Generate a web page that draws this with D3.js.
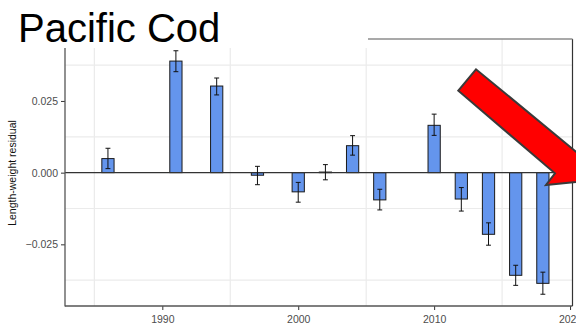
<!DOCTYPE html>
<html>
<head>
<meta charset="utf-8">
<script src="https://cdn.jsdelivr.net/npm/d3@7/dist/d3.min.js"></script>
<style>
  html, body { margin: 0; padding: 0; background: #fff; }
  svg { display: block; }
</style>
</head>
<body>
<svg id="chart" width="576" height="325"></svg>
<script>
const years  = [1986, 1991, 1994, 1997, 2000, 2002, 2004, 2006, 2010, 2012, 2014, 2016, 2018];
const values = [0.0049, 0.0389, 0.0302, -0.0009, -0.0067, 0.0002, 0.0094, -0.0095, 0.0165, -0.0092, -0.0215, -0.0358, -0.0386];
const lower  = [0.0014, 0.0352, 0.0271, -0.0042, -0.0103, -0.0025, 0.0061, -0.0130, 0.0130, -0.0134, -0.0253, -0.0393, -0.0424];
const upper  = [0.0085, 0.0425, 0.0330, 0.0022, -0.0034, 0.0028, 0.0129, -0.0058, 0.0204, -0.0052, -0.0175, -0.0323, -0.0347];
const xTicks = [1990, 2000, 2010, 2020];
const xMinor = [1985, 1995, 2005, 2015];
const yTicks = [-0.025, 0, 0.025];
const yMinor = [-0.0375, -0.0125, 0.0125, 0.0375];
const title = "Pacific Cod";
const yLabel = "Length-weight residual";

const svg = d3.select("#chart");
const L = 65, R = 572.5, T = 39, B = 306;
const x = d3.scaleLinear().domain([1982.84, 2020.18]).range([L, R]);
const y = d3.scaleLinear().domain([-0.0465, 0.0466]).range([B, T]);
const data = years.map((yr, i) => ({yr, v: values[i], lo: lower[i], hi: upper[i]}));

// grid (minor only)
const g = svg.append("g");
g.selectAll(".vg").data(xMinor).join("line")
  .attr("x1", d => x(d)).attr("x2", d => x(d)).attr("y1", T).attr("y2", B)
  .attr("stroke", "#ebebeb").attr("stroke-width", 1.2);
g.selectAll(".hg").data(yMinor).join("line")
  .attr("x1", L).attr("x2", R).attr("y1", d => y(d)).attr("y2", d => y(d))
  .attr("stroke", "#ebebeb").attr("stroke-width", 1.2);

// bars
const bw = 0.9;
svg.append("g").selectAll("rect").data(data).join("rect")
  .attr("x", d => x(d.yr - bw / 2))
  .attr("width", x(bw) - x(0))
  .attr("y", d => y(Math.max(0, d.v)))
  .attr("height", d => Math.abs(y(d.v) - y(0)))
  .attr("fill", "#6495ED").attr("stroke", "#1a1a1a").attr("stroke-width", 1);

// zero line
svg.append("line").attr("x1", L).attr("x2", R).attr("y1", y(0)).attr("y2", y(0))
  .attr("stroke", "#333").attr("stroke-width", 1.1);

// error bars
const cap = 0.18;
const eb = svg.append("g").attr("stroke", "#111").attr("stroke-width", 1);
eb.selectAll(".v").data(data).join("line")
  .attr("x1", d => x(d.yr)).attr("x2", d => x(d.yr)).attr("y1", d => y(d.lo)).attr("y2", d => y(d.hi));
eb.selectAll(".c1").data(data).join("line")
  .attr("x1", d => x(d.yr - cap)).attr("x2", d => x(d.yr + cap)).attr("y1", d => y(d.lo)).attr("y2", d => y(d.lo));
eb.selectAll(".c2").data(data).join("line")
  .attr("x1", d => x(d.yr - cap)).attr("x2", d => x(d.yr + cap)).attr("y1", d => y(d.hi)).attr("y2", d => y(d.hi));

// axes
const xAxis = svg.append("g").attr("transform", `translate(0,${B})`)
  .call(d3.axisBottom(x).tickValues(xTicks).tickFormat(d3.format("d")).tickSize(4).tickPadding(3));
const yAxis = svg.append("g").attr("transform", `translate(${L},0)`)
  .call(d3.axisLeft(y).tickValues(yTicks).tickFormat(d3.format(".3f")).tickSize(4).tickPadding(3));
[xAxis, yAxis].forEach(a => {
  a.select(".domain").remove();
  a.selectAll(".tick line").attr("stroke", "#333");
  a.selectAll(".tick text").attr("fill", "#4d4d4d")
    .style("font-family", "Liberation Sans, Arial, sans-serif").style("font-size", "10.5px");
});
xAxis.selectAll(".tick text").attr("dy", "0.95em");

// panel border lines
svg.append("line").attr("x1", L).attr("x2", L).attr("y1", T).attr("y2", B + 0.5).attr("stroke", "#555").attr("stroke-width", 1.3);
svg.append("line").attr("x1", L).attr("x2", R).attr("y1", B).attr("y2", B).attr("stroke", "#555").attr("stroke-width", 1.3);
svg.append("line").attr("x1", R).attr("x2", R).attr("y1", T).attr("y2", B).attr("stroke", "#333").attr("stroke-width", 1.2);
svg.append("line").attr("x1", L).attr("x2", R).attr("y1", T).attr("y2", T).attr("stroke", "#8c8c8c").attr("stroke-width", 1.5);

// y label
svg.append("text").attr("transform", `translate(16,${(T + B) / 2 + 0.5}) rotate(-90)`)
  .attr("text-anchor", "middle").attr("fill", "#111")
  .style("font-family", "Liberation Sans, Arial, sans-serif").style("font-size", "10.5px")
  .text(yLabel);

// title box overlay
svg.append("rect").attr("x", 0).attr("y", 0).attr("width", 368).attr("height", 48).attr("fill", "#fff");
svg.append("text").attr("x", 18).attr("y", 41.5)
  .style("font-family", "Liberation Sans, Arial, sans-serif").style("font-size", "40px")
  .attr("fill", "#000").text(title);

// red arrow annotation
const arrow = [[476, 69.3], [458.3, 90.7], [555, 173.3], [546, 185], [615, 178], [600, 140], [585, 159.1]];
svg.append("path").attr("d", d3.line()(arrow) + "Z")
  .attr("fill", "#ff0000").attr("stroke", "#3a3a3a").attr("stroke-width", 2).attr("stroke-linejoin", "miter");
</script>
</body>
</html>
